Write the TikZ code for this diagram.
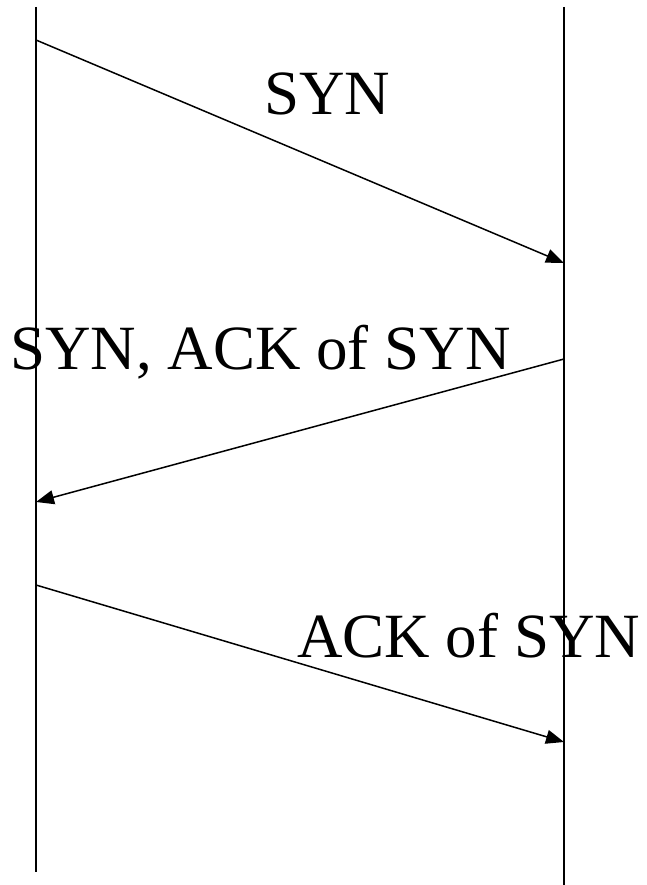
\documentclass[tikz,border=0pt]{standalone}
\usepackage{fontspec}
\setmainfont{Liberation Serif}
\usetikzlibrary{arrows.meta}

\begin{document}
\begin{tikzpicture}[x=1pt,y=-1pt,
  lifeline/.style={line width=2pt},
  msg/.style={line width=1.5pt,-{Triangle[length=18pt,width=14pt]}},
  msglabel/.style={anchor=base west,inner sep=0pt,font=\fontsize{63}{75}\selectfont}]
\useasboundingbox (0,0) rectangle (646,885);
% lifelines
\coordinate (ltop) at (36,7);
\coordinate (lbot) at (36,872);
\coordinate (rtop) at (564,7);
\coordinate (rbot) at (564,885);
\draw[lifeline] (ltop) -- (lbot);
\draw[lifeline] (rtop) -- (rbot);
% messages
\coordinate (syn1) at (36,40);
\coordinate (syn2) at (564,263);
\coordinate (sa1) at (564,359);
\coordinate (sa2) at (36,502);
\coordinate (ack1) at (36,585);
\coordinate (ack2) at (564,742);
\draw[msg] (syn1) -- (syn2);
\draw[msg] (sa1) -- (sa2);
\draw[msg] (ack1) -- (ack2);
% labels
\node[msglabel] (synlbl) at (264,115) {SYN};
\node[msglabel] (salbl) at (10,369) {SYN, ACK of SYN};
\node[msglabel] (acklbl) at (297,657) {ACK of SYN};
\end{tikzpicture}
\end{document}
